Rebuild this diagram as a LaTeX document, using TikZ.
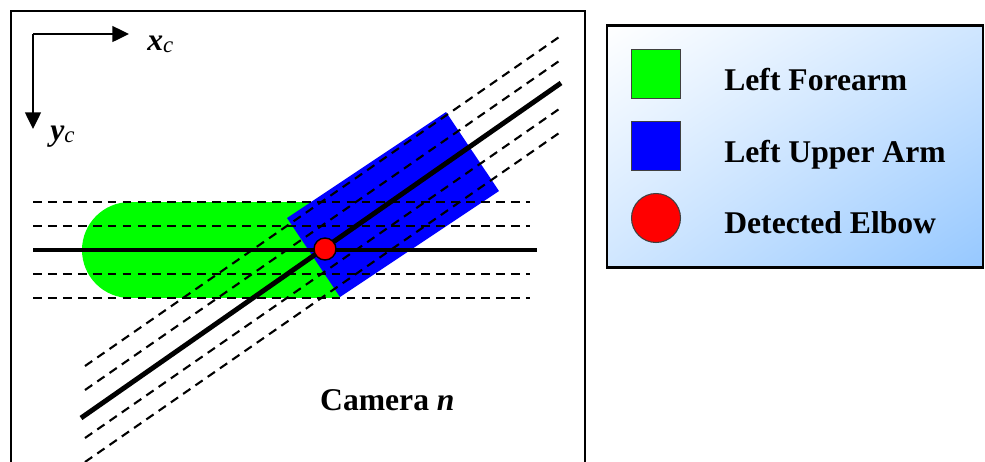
\documentclass[tikz,border=0pt]{standalone}
\usepackage{fontspec}
\setmainfont{Liberation Serif}
\usetikzlibrary{arrows.meta,shadings}
\definecolor{armgreen}{RGB}{0,255,0}
\definecolor{armblue}{RGB}{0,0,255}
\definecolor{elbowred}{RGB}{255,0,0}
\definecolor{legendblue}{RGB}{150,200,255}

\begin{document}
\begin{tikzpicture}[x=0.02cm,y=-0.02cm,line join=miter,
  every node/.style={font=\fontsize{18}{21}\selectfont\bfseries},
  guide/.style={line width=1.2pt,dash pattern=on 5pt off 3.5pt},
  axisline/.style={line width=2.8pt},
  coordarrow/.style={line width=1.2pt,-{Triangle[length=9.5pt,width=9pt]}},
  keybox/.style={draw=black!75,line width=0.6pt,minimum size=0.98cm,inner sep=0pt}]
  \useasboundingbox (0,0) rectangle (985,461);

  \draw[line width=1.1pt] (11,11) rectangle (585,475);

  \coordinate (origin) at (33,34);
  \coordinate (xend) at (129,34);
  \coordinate (yend) at (33,129);
  \draw[coordarrow] (origin) -- (xend);
  \draw[coordarrow] (origin) -- (yend);
  \node[anchor=base west,inner sep=0pt] (xlabel) at (147,50)
    {\textit{x}\raisebox{-1.7pt}{\fontsize{13}{13}\selectfont\mdseries\textit{c}}};
  \node[anchor=base west,inner sep=0pt] (ylabel) at (50,140)
    {\textit{y}\raisebox{-1.7pt}{\fontsize{13}{13}\selectfont\mdseries\textit{c}}};

  % forearm and upper arm
  \fill[armgreen] (130,250) circle[radius=48];
  \fill[armgreen] (130,202) rectangle (340,298);
  \fill[armblue] (287,218) -- (446,112) -- (499,191) -- (340,297) -- cycle;

  \foreach \d in {-48,-24,24,48} {
    \draw[guide] (33,{250+\d}) -- (530,{250+\d});
    \draw[guide] (85,{414+\d}) -- (562,{83+\d});
  }
  \coordinate (hstart) at (33,250);
  \coordinate (hend) at (537,250);
  \coordinate (dstart) at (81,418);
  \coordinate (dend) at (561,83);
  \draw[axisline] (hstart) -- (hend);
  \draw[axisline] (dstart) -- (dend);
  \node[circle,draw,fill=elbowred,minimum size=0.44cm,inner sep=0pt,line width=0.8pt] (elbow) at (325,249) {};

  \node[anchor=base west] (camlabel) at (314,410) {Camera \textit{n}};

  % legend
  \draw[line width=1.7pt,upper left=white,lower right=legendblue,
    upper right=legendblue!45!white,lower left=legendblue!45!white] (607,25) rectangle (983,267);
  \node[keybox,fill=armgreen] (forearmkey) at (656,74) {};
  \node[keybox,fill=armblue] (upperkey) at (656,146) {};
  \node[keybox,circle,fill=elbowred] (elbowkey) at (656,218) {};
  \node[anchor=base west,inner sep=0pt] (forearmtext) at (724,90) {Left Forearm};
  \node[anchor=base west,inner sep=0pt] (uppertext) at (724,162) {Left Upper Arm};
  \node[anchor=base west,inner sep=0pt] (elbowtext) at (724,233) {Detected Elbow};
\end{tikzpicture}
\end{document}
